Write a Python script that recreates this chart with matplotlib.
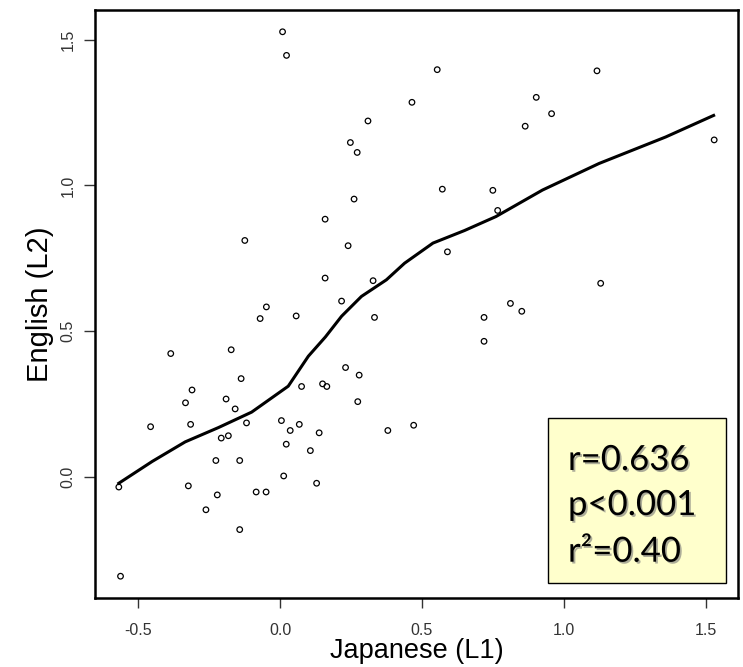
import numpy as np
import matplotlib
matplotlib.use("Agg")
import matplotlib.pyplot as plt
import matplotlib.patheffects as pe
from matplotlib.patches import Rectangle

# scores (Japanese L1 vs English L2)
japanese = [0.009, 0.023, 0.465, 0.310, 0.248, 0.272, 0.261, 0.159, -0.124, 0.240,
            0.159, 0.328, 0.217, 0.554, 1.117, 0.903, 0.957, 0.864, 1.530, 0.572,
            0.750, 0.767, 0.590, 1.130, -0.048, -0.070, 0.057, 0.333, -0.385, -0.172,
            -0.137, -0.310, -0.333, -0.190, -0.158, 0.076, 0.150, 0.165, 0.231, 0.279,
            0.274, -0.456, -0.315, -0.118, 0.005, 0.036, 0.068, 0.138, 0.380, 0.471,
            -0.207, -0.182, 0.022, 0.107, -0.226, -0.142, 0.013, -0.568, -0.323, -0.221,
            -0.084, -0.049, 0.129, -0.261, -0.142, -0.562, 0.812, 0.852, 0.719, 0.719]
english = [1.527, 1.446, 1.285, 1.221, 1.147, 1.113, 0.953, 0.884, 0.811, 0.793,
           0.682, 0.673, 0.603, 1.397, 1.393, 1.302, 1.246, 1.203, 1.156, 0.987,
           0.983, 0.914, 0.772, 0.664, 0.583, 0.543, 0.552, 0.547, 0.423, 0.436,
           0.337, 0.298, 0.254, 0.267, 0.233, 0.310, 0.319, 0.310, 0.375, 0.349,
           0.258, 0.172, 0.180, 0.185, 0.193, 0.159, 0.180, 0.151, 0.159, 0.177,
           0.133, 0.141, 0.112, 0.090, 0.056, 0.056, 0.003, -0.035, -0.031, -0.062,
           -0.052, -0.052, -0.022, -0.113, -0.181, -0.341, 0.595, 0.568, 0.547, 0.465]

# smoothed (lowess) line
fit_x = [-0.568, -0.450, -0.334, -0.217, -0.100, 0.029, 0.100, 0.160, 0.217, 0.287,
         0.375, 0.439, 0.539, 0.650, 0.761, 0.925, 1.124, 1.359, 1.528]
fit_y = [-0.022, 0.053, 0.120, 0.169, 0.222, 0.311, 0.414, 0.480, 0.551, 0.619,
         0.676, 0.733, 0.802, 0.845, 0.893, 0.984, 1.075, 1.166, 1.240]

ticks = [-0.5, 0.0, 0.5, 1.0, 1.5]
tick_labels = ["-0.5", "0.0", "0.5", "1.0", "1.5"]
y_ticks = [0.0, 0.5, 1.0, 1.5]
y_tick_labels = ["0.0", "0.5", "1.0", "1.5"]
stats_lines = ["r=0.636", "p<0.001", "r\u00b2=0.40"]

plt.rcParams['font.family'] = ['Liberation Sans', 'DejaVu Sans']

fig = plt.figure(figsize=(7.43, 6.67), dpi=100)
ax = fig.add_axes([95 / 743, 69 / 667, 643 / 743, 588 / 667])

ax.scatter(japanese, english, s=16, facecolors='none', edgecolors='black',
           linewidths=0.9, zorder=3)
ax.plot(fit_x, fit_y, color='black', lw=2.2, zorder=4)

# R style limits: 4% padding around the data
xr = max(japanese) - min(japanese)
yr = max(english) - min(english)
ax.set_xlim(min(japanese) - 0.04 * xr, max(japanese) + 0.04 * xr)
ax.set_ylim(min(english) - 0.04 * yr, max(english) + 0.04 * yr)

ax.set_xticks(ticks)
ax.set_xticklabels(tick_labels)
ax.set_yticks(y_ticks)
ax.set_yticklabels(y_tick_labels, rotation=90, va='center')
ax.tick_params(axis='x', length=7, width=1, colors='#333333', labelsize=11.5, pad=11)
ax.tick_params(axis='y', length=8, width=1, colors='#333333', labelsize=11.5, pad=6)

for sp in ax.spines.values():
    sp.set_linewidth(1.8)

ax.set_xlabel("Japanese (L1)", fontsize=19.5, labelpad=0)
ax.set_ylabel("English (L2)", fontsize=21, labelpad=5)

# yellow stats box in the lower right corner
ax.add_patch(Rectangle((0.704, 0.025), 0.277, 0.281, transform=ax.transAxes,
                       facecolor='#FFFFCC', edgecolor='black', lw=1, zorder=5))
shadow = [pe.withSimplePatchShadow(offset=(1.3, -1.3), shadow_rgbFace='#777777', alpha=0.6)]
for txt, yb in zip(stats_lines, [0.2177, 0.1412, 0.0617]):
    ax.text(0.7356, yb, txt, transform=ax.transAxes, fontsize=25, family='Lato',
            va='baseline', ha='left', zorder=6, path_effects=shadow)

fig.savefig("out.png", dpi=100)
